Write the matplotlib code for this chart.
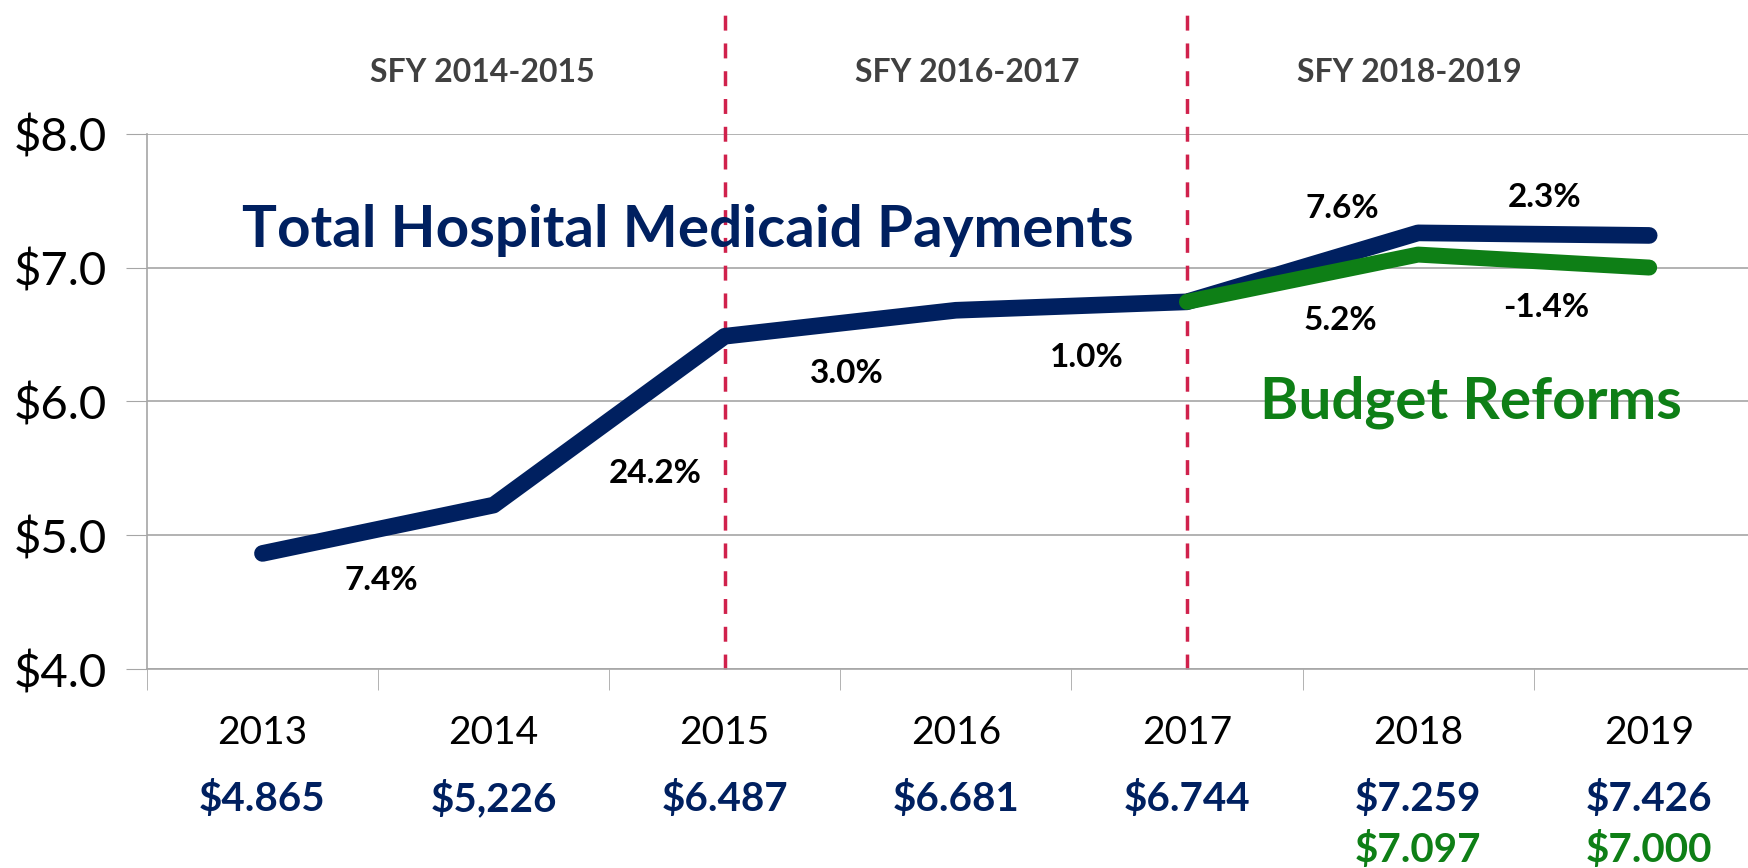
import matplotlib
matplotlib.use("Agg")
import matplotlib.pyplot as plt
from matplotlib.transforms import blended_transform_factory

plt.rcParams['font.family'] = ['Lato', 'DejaVu Sans']

years = ["2013", "2014", "2015", "2016", "2017", "2018", "2019"]
total_payments = [4.865, 5.226, 6.487, 6.681, 6.744, 7.259, 7.24]
reform_payments = [6.744, 7.097, 7.000]   # 2017-2019
total_labels = ["$4.865", "$5,226", "$6.487", "$6.681", "$6.744", "$7.259", "$7.426"]
reform_labels = ["$7.097", "$7.000"]
total_growth = ["7.4%", "24.2%", "3.0%", "1.0%", "7.6%", "2.3%"]
reform_growth = ["5.2%", "-1.4%"]
periods = ["SFY 2014-2015", "SFY 2016-2017", "SFY 2018-2019"]

NAVY = "#002060"
GREEN = "#0e7f16"
GRID = "#a6a6a6"
RED = "#d0214c"

fig = plt.figure(figsize=(17.49, 8.68), dpi=100)
ax = fig.add_axes([0.084, 0.229, 0.925, 0.617])

x = list(range(len(years)))
xr = x[4:]
ax.plot(x, total_payments, color=NAVY, lw=12, solid_capstyle='round',
        solid_joinstyle='round', zorder=3)
ax.plot(xr, reform_payments, color=GREEN, lw=11.5, solid_capstyle='round',
        solid_joinstyle='round', zorder=4)

ax.set_xlim(-0.5, 6.5)
ax.set_ylim(4, 8)
ax.set_yticks([4, 5, 6, 7, 8])
ax.set_yticklabels(["$%.1f" % v for v in [4, 5, 6, 7, 8]], fontsize=34)
ax.tick_params(axis='y', length=15, color=GRID, pad=14)
ax.grid(axis='y', color=GRID, lw=1.2)
ax.set_xticks([])
ax.set_xticks([i - 0.5 for i in range(len(years) + 1)], minor=True)
ax.tick_params(axis='x', which='minor', length=15, color=GRID)
for s in ['top', 'right']:
    ax.spines[s].set_visible(False)
for s in ['left', 'bottom']:
    ax.spines[s].set_color(GRID)
    ax.spines[s].set_linewidth(1.2)
ax.set_axisbelow(True)

# period separators
for xv in (2, 4):
    ax.vlines(xv, 4, 8.93, colors=RED, linestyles=(0, (4.3, 3.7)), lw=2.5,
              clip_on=False, zorder=2)

tr = blended_transform_factory(ax.transData, fig.transFigure)
for xp, lab in zip([0.95, 3.05, 4.96], periods):
    ax.text(xp, 0.917, lab, transform=tr, ha='center', va='center',
            fontsize=23, fontweight='bold', color='#404040')

# x labels and values
for i, yr in enumerate(years):
    ax.text(i, 0.155, yr, transform=tr, ha='center', va='center', fontsize=28)
    ax.text(i, 0.080, total_labels[i], transform=tr, ha='center', va='center',
            fontsize=29, fontweight='bold', color=NAVY)
for i, lab in zip(xr[1:], reform_labels):
    ax.text(i, 0.021, lab, transform=tr, ha='center', va='center',
            fontsize=29, fontweight='bold', color=GREEN)

# growth labels: offsets in pixels from segment midpoint
total_offsets = [(3, -51), (46, -53), (7, -50), (15, -51), (40, 59), (11, 37)]
for i, (lab, off) in enumerate(zip(total_growth, total_offsets)):
    mx = i + 0.5
    my = (total_payments[i] + total_payments[i + 1]) / 2
    ax.annotate(lab, (mx, my), xytext=off, textcoords='offset pixels',
                ha='center', va='center', fontsize=24, fontweight='bold')
reform_offsets = [(38, -42), (13, -46)]
for i, (lab, off) in enumerate(zip(reform_growth, reform_offsets)):
    mx = xr[i] + 0.5
    my = (reform_payments[i] + reform_payments[i + 1]) / 2
    ax.annotate(lab, (mx, my), xytext=off, textcoords='offset pixels',
                ha='center', va='center', fontsize=24, fontweight='bold')

ax.text(0.059, 0.819, "Total Hospital Medicaid Payments", transform=ax.transAxes,
        ha='left', va='center', fontsize=42, fontweight='bold', color=NAVY)
ax.text(0.688, 0.499, "Budget Reforms", transform=ax.transAxes,
        ha='left', va='center', fontsize=42, fontweight='bold', color=GREEN)

fig.savefig("out.png", dpi=100)
